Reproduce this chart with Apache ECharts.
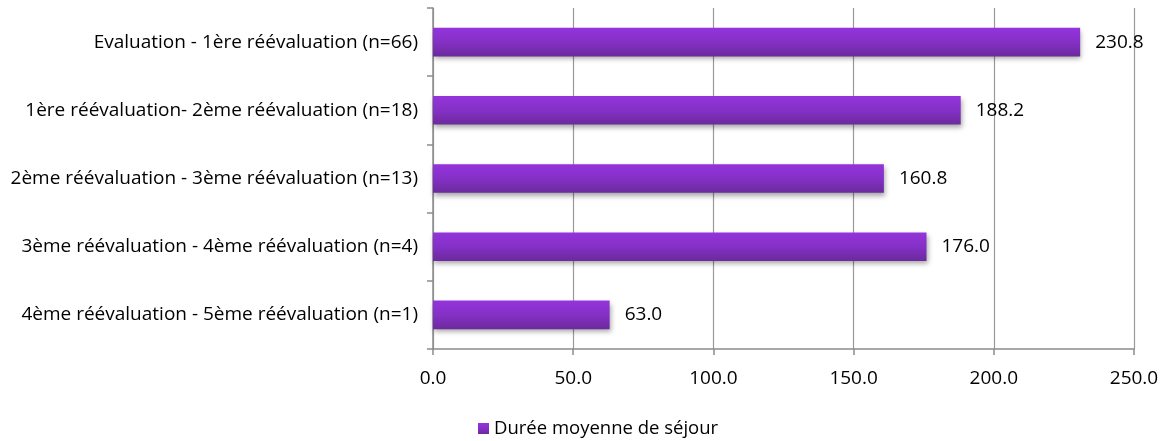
<!DOCTYPE html>
<html>
<head>
<meta charset="utf-8">
<script src="https://cdn.jsdelivr.net/npm/echarts@6/dist/echarts.min.js"></script>
<style>
  html, body { margin: 0; padding: 0; background: #fff; }
  #chart { width: 1168px; height: 441px; }
</style>
</head>
<body>
<div id="chart"></div>
<script>
// Intervals between successive evaluations (top to bottom as displayed)
const categories = [
  'Evaluation - 1ère réévaluation (n=66)',
  '1ère réévaluation- 2ème réévaluation (n=18)',
  '2ème réévaluation - 3ème réévaluation (n=13)',
  '3ème réévaluation - 4ème réévaluation (n=4)',
  '4ème réévaluation - 5ème réévaluation (n=1)'
];
const dureeMoyenne = [230.8, 188.2, 160.8, 176.0, 63.0];
const seriesName = 'Durée moyenne de séjour';
const axisMin = 0, axisMax = 250, axisStep = 50;

const FONT = 'Open Sans';
const FS = 19;
const axisGrey = '#8c8c8c';

const chart = echarts.init(document.getElementById('chart'));
chart.setOption({
  animation: false,
  textStyle: { fontFamily: FONT },
  grid: { left: 433, right: 34, top: 8, bottom: 92, containLabel: false },
  legend: {
    data: [seriesName],
    left: 473, top: 414,
    itemWidth: 11, itemHeight: 11, itemGap: 4,
    icon: 'rect',
    textStyle: { fontFamily: FONT, fontSize: 18.5, color: '#000', padding: [0, 0, 0, 0] }
  },
  xAxis: {
    type: 'value',
    min: axisMin, max: axisMax, interval: axisStep,
    axisLine: { show: true, lineStyle: { color: axisGrey, width: 1.5 } },
    axisTick: { show: true, length: 6, lineStyle: { color: axisGrey, width: 1.5 } },
    splitLine: { show: true, lineStyle: { color: '#9a9a9a', width: 1.2 } },
    axisLabel: {
      color: '#000', fontSize: FS, fontFamily: FONT, margin: 20,
      formatter: v => v.toFixed(1)
    }
  },
  yAxis: {
    type: 'category',
    inverse: true,
    data: categories,
    axisLine: { show: true, lineStyle: { color: axisGrey, width: 1.5 } },
    axisTick: { show: true, length: 6, alignWithLabel: false, lineStyle: { color: axisGrey, width: 1.5 } },
    axisLabel: { color: '#000', fontSize: FS, fontFamily: FONT, margin: 15 }
  },
  series: [{
    name: seriesName,
    type: 'bar',
    data: dureeMoyenne,
    barWidth: '42%',
    itemStyle: {
      color: new echarts.graphic.LinearGradient(0, 0, 0, 1, [
        { offset: 0, color: '#9434dc' },
        { offset: 0.5, color: '#8430c6' },
        { offset: 1, color: '#6c2a9c' }
      ]),
      shadowColor: 'rgba(0,0,0,0.35)',
      shadowBlur: 5,
      shadowOffsetX: 1,
      shadowOffsetY: 3
    },
    label: {
      show: true, position: 'right', distance: 15,
      color: '#000', fontSize: FS, fontFamily: FONT,
      formatter: p => p.value.toFixed(1)
    }
  }]
});
</script>
</body>
</html>
